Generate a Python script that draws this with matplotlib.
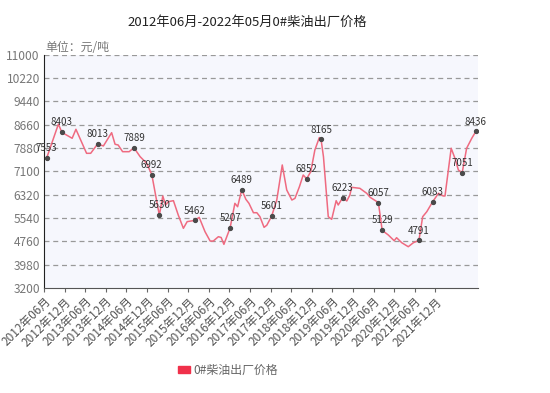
import matplotlib
matplotlib.use("Agg")
import matplotlib.pyplot as plt
from matplotlib.patches import Patch

plt.rcParams['font.family'] = ['Noto Sans CJK SC', 'DejaVu Sans']

# price series (x = position along the category axis, y = yuan/ton)
pos = [0.8, 4.2, 5.2, 8.2, 9.3, 12.4, 13.6, 15.6, 17.3, 19.7, 20.7, 21.6, 22.9, 24.8,
       26.2, 28.0, 29.9, 31.4, 33.6, 34.6, 35.4, 36.2, 37.7, 39.1, 40.6, 41.7, 44.0,
       45.2, 46.9, 48.4, 49.3, 50.8, 51.6, 52.4, 54.2, 55.6, 56.4, 57.6, 58.8, 59.7,
       61.0, 62.0, 62.9, 64.1, 64.9, 66.3, 67.8, 69.4, 70.7, 72.2, 73.1, 74.4, 75.5,
       76.5, 77.7, 78.9, 80.2, 80.7, 81.4, 82.8, 83.8, 85.1, 85.7, 87.0, 88.2, 89.1,
       89.6, 92.0, 94.0, 95.0, 97.4, 98.5, 100.3, 102.0, 102.7, 104.2, 106.1, 107.6,
       109.2, 110.3, 111.5, 113.2, 114.9, 116.3, 116.8, 118.6, 119.7, 120.7, 121.8,
       123.1, 124.6, 125.8]
price = [7553, 8680, 8403, 8205, 8505, 7703, 7703, 8013, 7948, 8392, 8005, 7980, 7757, 7757,
         7889, 7590, 7370, 6992, 5630, 6277, 5976, 6087, 6120, 5642, 5197, 5420, 5462,
         5563, 5084, 4771, 4771, 4917, 4890, 4661, 5207, 6031, 5918, 6489, 6166, 6031,
         5718, 5718, 5585, 5229, 5300, 5601, 6142, 7313, 6478, 6142, 6198, 6588, 6978,
         6852, 7090, 7815, 8230, 8165, 7590, 5585, 5497, 6120, 5976, 6223, 6110, 6310,
         6567, 6533, 6366, 6232, 6057, 5129, 4972, 4782, 4883, 4716, 4582, 4716,
         4791, 5585, 5752, 6083, 6366, 6277, 6277, 7871, 7536, 7146, 7051,
         7871, 8205, 8436]
# indices of the labelled points
marked = [0, 2, 7, 14, 17, 18, 26, 34, 37, 45, 53, 57, 63, 70, 71, 78, 81, 88, 91]

tick_pos = list(range(0, 115, 6))
tick_labels = ['2012年06月', '2012年12月', '2013年06月', '2013年12月', '2014年06月',
               '2014年12月', '2015年06月', '2015年12月', '2016年06月', '2016年12月',
               '2017年06月', '2017年12月', '2018年06月', '2018年12月', '2019年06月',
               '2019年12月', '2020年06月', '2020年12月', '2021年06月', '2021年12月']
y_ticks = [3200, 3980, 4760, 5540, 6320, 7100, 7880, 8660, 9440, 10220, 11000]

fig = plt.figure(figsize=(5.5, 3.93), dpi=100)
ax = fig.add_axes([0.08, 0.267, 0.789, 0.594])
ax.set_facecolor('#f6f7fd')

ax.plot(pos, price, color='#ef6a80', lw=1.1, zorder=3)
mx = [pos[i] for i in marked]
my = [price[i] for i in marked]
ax.plot(mx, my, 'o', color='#4a4a4a', ms=2.8, zorder=4)
for x, y in zip(mx, my):
    ax.annotate(str(y), (x, y), xytext=(0, 3.5), textcoords='offset points',
                ha='center', va='bottom', fontsize=7, color='#333333', zorder=5)

ax.set_xlim(0, 126.4)
ax.set_ylim(3200, 11000)
ax.set_yticks(y_ticks)
ax.set_yticklabels([str(v) for v in y_ticks], fontsize=8.6, color='#777777')
ax.set_xticks(tick_pos)
ax.set_xticklabels(tick_labels, rotation=45, ha='right', rotation_mode='anchor',
                   fontsize=8.5, color='#555555')
ax.tick_params(axis='y', length=0, pad=3)
ax.tick_params(axis='x', length=3, color='#666666', pad=2)
for v in y_ticks[1:]:
    ax.axhline(v, color='#999999', lw=0.9, ls=(0, (4, 3)), zorder=1)
for s in ['top', 'right']:
    ax.spines[s].set_visible(False)
ax.spines['left'].set_color('#222222')
ax.spines['bottom'].set_color('#555555')

fig.text(0.083, 0.88, '单位：元/吨', fontsize=8.6, color='#777777', va='center')
fig.text(0.45, 0.944, '2012年06月-2022年05月0#柴油出厂价格', fontsize=9.5,
         color='#222222', ha='center', va='center')

fig.legend(handles=[Patch(color='#f0304a', label='0#柴油出厂价格')],
           loc='center', bbox_to_anchor=(0.415, 0.058), frameon=False,
           fontsize=8.6, handlelength=1.0, handleheight=0.6, handletextpad=0.3,
           labelcolor='#666666')

fig.savefig('out.png', dpi=100)
